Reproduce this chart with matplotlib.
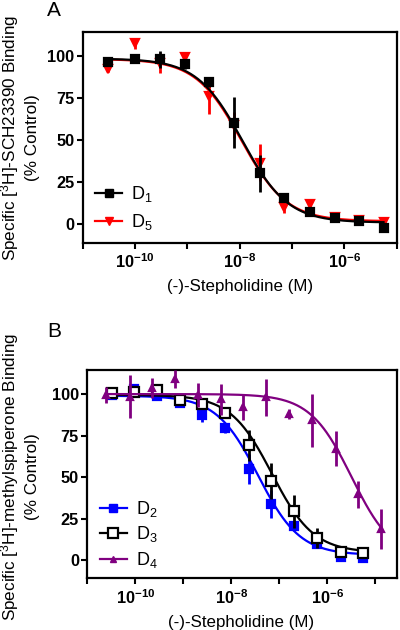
import numpy as np
import matplotlib
matplotlib.use("Agg")
import matplotlib.pyplot as plt
from matplotlib.lines import Line2D
from matplotlib.ticker import FixedLocator, FuncFormatter

plt.rcParams['font.family'] = ['Liberation Sans', 'DejaVu Sans']
plt.rcParams['mathtext.fontset'] = 'custom'
plt.rcParams['mathtext.rm'] = 'Liberation Sans'
plt.rcParams['mathtext.bf'] = 'Liberation Sans:bold'
plt.rcParams['mathtext.it'] = 'Liberation Sans:italic'

# ---------------- Data ----------------
# Panel A: [3H]-SCH23390 binding (D1, D5)
conc_A = [3.0e-11, 1.0e-10, 2.95e-10, 9.1e-10, 2.6e-9, 7.8e-9, 2.4e-8, 6.9e-8,
          2.2e-7, 6.6e-7, 1.9e-6, 5.6e-6]
d1_mean = [96.6, 98.2, 98.0, 95.2, 84.8, 60.4, 30.3, 15.4, 7.5, 3.6, 2.2, -2.0]
d1_err = [1.5, 2.0, 5.0, 3.0, 3.0, 15.3, 11.0, 2.0, 2.0, 1.5, 1.0, 2.0]
d5_mean = [92.5, 107.5, 96.0, 99.5, 76.5, 59.0, 36.5, 10.5, 12.0, 4.5, 2.5, 1.5]
d5_err = [2.0, 3.0, 6.0, 3.0, 11.0, 8.0, 11.0, 4.0, 3.0, 2.0, 1.0, 1.0]
# fitted 4-parameter logistic: top, bottom, logIC50, hill
fit_d1 = [98.5, 1.0, -7.95, 1.0]
fit_d5 = [98.2, 1.8, -7.97, 1.0]

# Panel B: [3H]-methylspiperone binding (D2, D3, D4)
conc_B = [3.2e-11, 9.5e-11, 2.8e-10, 8.5e-10, 2.5e-9, 7.6e-9, 2.3e-8, 6.8e-8,
          2.0e-7, 6.2e-7, 1.9e-6, 5.5e-6]
d2_mean = [99.4, 102.8, 98.8, 94.7, 87.3, 79.8, 55.0, 34.0, 20.7, 9.7, 2.0, 1.5]
d2_err = [1.0, 1.0, 1.0, 2.0, 4.0, 3.0, 9.0, 8.5, 3.0, 2.0, 2.0, 2.0]
d3_mean = [100.4, 101.0, 102.4, 96.4, 94.0, 88.3, 69.1, 47.6, 29.4, 13.3, 4.6, 4.0]
d3_err = [2.0, 2.0, 3.0, 3.0, 2.0, 3.0, 9.5, 11.0, 10.0, 6.0, 2.0, 2.0]
conc_D4 = [2.5e-11, 7.6e-11, 2.2e-10, 6.8e-10, 2.0e-9, 6.0e-9, 1.8e-8, 5.4e-8,
           1.6e-7, 4.9e-7, 1.5e-6, 4.3e-6, 1.3e-5]
d4_mean = [99.4, 98.4, 103.4, 108.9, 99.4, 96.8, 92.3, 98.0, 87.9, 84.3, 67.1, 39.5, 18.7]
d4_err = [5.0, 13.0, 6.0, 5.5, 7.0, 9.5, 8.0, 11.0, 3.0, 16.0, 10.5, 8.0, 12.0]
fit_d2 = [99.0, 3.0, -7.44, 1.0]
fit_d3 = [99.5, 4.5, -7.15, 1.0]
fit_d4 = [100.0, 0.0, -5.49, 1.0]

# ---------------- Helpers ----------------
def logistic(conc, p):
    top, bottom, logic50, hill = p
    lc = np.log10(conc)
    return bottom + (top - bottom) / (1.0 + 10 ** (hill * (lc - logic50)))

def draw_series(ax, conc, mean, err, fit, color, marker, ms, mfc, z):
    conc = np.asarray(conc)
    xs = np.logspace(np.log10(conc.min()), np.log10(conc.max()), 300)
    ax.plot(xs, logistic(xs, fit), color=color, lw=1.6, zorder=z)
    ax.errorbar(conc, mean, yerr=err, fmt='none', ecolor=color, elinewidth=2.0,
                capsize=0, zorder=z + 0.1)
    ax.plot(conc, mean, linestyle='none', marker=marker, ms=ms, mfc=mfc,
            mec=color, mew=1.6, zorder=z + 0.2)

def dec_fmt(v, pos):
    e = int(round(np.log10(v)))
    if e % 2 == 0:
        return r'$\mathbf{10^{%d}}$' % e
    return ''

def style_axes(ax, xlim):
    ax.set_xscale('log')
    ax.set_xlim(*xlim)
    ax.set_ylim(-11, 114.5)
    ax.xaxis.set_major_locator(FixedLocator([10.0 ** k for k in range(-11, -4)]))
    ax.xaxis.set_minor_locator(FixedLocator([]))
    ax.xaxis.set_major_formatter(FuncFormatter(dec_fmt))
    ax.set_yticks([0, 25, 50, 75, 100])
    ax.set_yticklabels(['0', '25', '50', '75', '100'])
    for lab in ax.get_yticklabels():
        lab.set_fontweight('bold')
    ax.tick_params(axis='both', direction='out', length=4, width=1.5,
                   labelsize=11.8, pad=2)
    ax.tick_params(axis='x', pad=3)
    for sp in ax.spines.values():
        sp.set_linewidth(1.6)

W, H = 400, 630
fig = plt.figure(figsize=(4.0, 6.3), dpi=100)

def px_axes(l, t, r, b):
    return fig.add_axes([l / W, 1 - b / H, (r - l) / W, (b - t) / H])

# ---------------- Panel A ----------------
axA = px_axes(82.7, 31.7, 396.7, 242.7)
style_axes(axA, (1e-11, 1e-5))
draw_series(axA, conc_A, d5_mean, d5_err, fit_d5, '#ff0000', 'v', 5.5, '#ff0000', 2)
draw_series(axA, conc_A, d1_mean, d1_err, fit_d1, '#000000', 's', 6, '#000000', 3)
hA = [Line2D([], [], color='#000000', lw=1.6, marker='s', ms=6, mfc='#000000'),
      Line2D([], [], color='#ff0000', lw=1.6, marker='v', ms=5.5, mfc='#ff0000')]
axA.legend(hA, ['D$_1$', 'D$_5$'], loc='lower left', frameon=False, fontsize=13,
           handlelength=1.5, handletextpad=0.5, labelspacing=0.45,
           borderaxespad=0.3, bbox_to_anchor=(0.0, -0.01))

# ---------------- Panel B ----------------
axB = px_axes(87.3, 370, 396.7, 578.3)
style_axes(axB, (1e-11, 10 ** -4.55))
draw_series(axB, conc_B, d2_mean, d2_err, fit_d2, '#0000ff', 's', 6, '#0000ff', 2)
draw_series(axB, conc_B, d3_mean, d3_err, fit_d3, '#000000', 's', 6.5, '#ffffff', 3)
draw_series(axB, conc_D4, d4_mean, d4_err, fit_d4, '#800080', '^', 5, '#800080', 4)
hB = [Line2D([], [], color='#0000ff', lw=1.6, marker='s', ms=6, mfc='#0000ff', mec='#0000ff'),
      Line2D([], [], color='#000000', lw=1.6, marker='s', ms=6.5, mfc='#ffffff', mew=1.6),
      Line2D([], [], color='#800080', lw=1.6, marker='^', ms=5, mfc='#800080', mec='#800080')]
axB.legend(hB, ['D$_2$', 'D$_3$', 'D$_4$'], loc='lower left', frameon=False,
           fontsize=13, handlelength=1.5, handletextpad=0.5, labelspacing=0.3,
           borderaxespad=0.3, bbox_to_anchor=(0.0, -0.02))

# ---------------- Text ----------------
fig.text(47 / W, 1 - 16 / H, 'A', fontsize=15, ha='left', va='baseline')
fig.text(47 / W, 1 - 337 / H, 'B', fontsize=15, ha='left', va='baseline')

fig.text(10 / W, 1 - 138 / H, r'Specific [$\mathregular{^3}$H]-SCH23390 Binding',
         rotation=90, fontsize=12.3, ha='center', va='center')
fig.text(33 / W, 1 - 138 / H, '(% Control)', rotation=90, fontsize=12.3,
         ha='center', va='center')
fig.text(10 / W, 1 - 477 / H, r'Specific [$\mathregular{^3}$H]-methylspiperone Binding',
         rotation=90, fontsize=12.3, ha='center', va='center')
fig.text(33 / W, 1 - 477 / H, '(% Control)', rotation=90, fontsize=12.3,
         ha='center', va='center')

fig.text(240 / W, 1 - 287 / H, '(-)-Stepholidine (M)', fontsize=12.2,
         ha='center', va='center')
fig.text(241 / W, 1 - 622 / H, '(-)-Stepholidine (M)', fontsize=12.2,
         ha='center', va='center')

fig.savefig('out.png', dpi=100)
